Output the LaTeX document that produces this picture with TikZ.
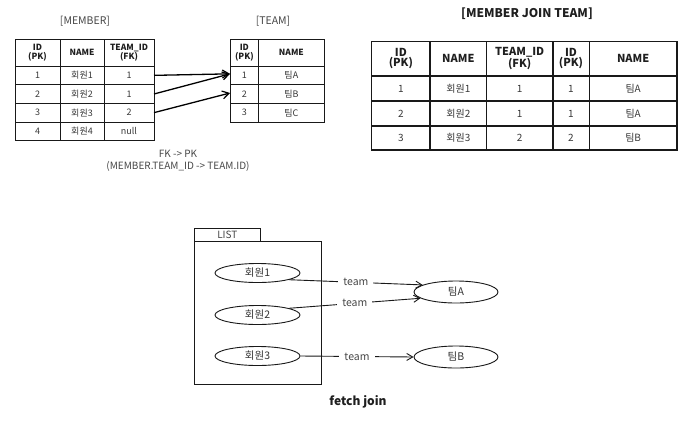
\documentclass[tikz,border=0pt]{standalone}
\usepackage{fontspec}
\setmainfont{Noto Sans CJK KR}
\usetikzlibrary{arrows.meta,shapes.geometric}
\newcommand\tc[7][cellbox]{\node[#1,minimum width={(#5-#3)*1pt},minimum height={(#6-#4)*1pt}] (#2) at ({(#3+#5)/2},{(#4+#6)/2}) {#7};}
\tikzset{
  cellbox/.style={draw=black!90, line width=0.9pt, inner sep=0pt, outer sep=0pt, align=center,
    font=\fontsize{9}{9}\selectfont, text=black!78},
  shdr/.style={cellbox, font=\fontsize{8.5}{8.5}\selectfont\bfseries, text=black!88},
  bigcell/.style={cellbox, line width=1.2pt, font=\fontsize{10}{10}\selectfont},
  bighdr/.style={bigcell, font=\fontsize{11}{10}\selectfont\bfseries, text=black!88},
  ttl/.style={font=\fontsize{10.5}{10}\selectfont, text=black!72},
  fkarrow/.style={draw=black, line width=1.3pt, -{Straight Barb[length=6.5pt,width=8pt,line width=1.2pt]}},
  ell/.style={ellipse, draw=black!90, line width=0.9pt, minimum width=85pt, minimum height=19pt,
    inner sep=0pt, font=\fontsize{10.5}{10}\selectfont, text=black!80},
  conn/.style={draw=black!90, line width=0.9pt, -{Straight Barb[length=6pt,width=7pt,line width=0.9pt]}},
  lbl/.style={fill=white, inner xsep=5pt, inner ysep=1pt, font=\fontsize{10.5}{10}\selectfont, text=black!72},
  boxline/.style={draw=black!90, line width=1pt, inner sep=0pt, outer sep=0pt}
}
\begin{document}
\begin{tikzpicture}[x=1pt,y=-1pt]
\useasboundingbox[fill=white] (0,0) rectangle (700,431);

% ---------- MEMBER ----------
\node[ttl] (memttl) at (85,21) {[MEMBER]};
\tc[shdr]{mh1}{15}{39.5}{60}{66}{ID\\(PK)}
\tc[shdr]{mh2}{60}{39.5}{104}{66}{NAME}
\tc[shdr]{mh3}{104}{39.5}{154}{66}{TEAM\_ID\\(FK)}
\tc{m11}{15}{66}{60}{84.7}{1}
\tc{m12}{60}{66}{104}{84.7}{회원1}
\tc{m13}{104}{66}{154}{84.7}{1}
\tc{m21}{15}{84.7}{60}{103.3}{2}
\tc{m22}{60}{84.7}{104}{103.3}{회원2}
\tc{m23}{104}{84.7}{154}{103.3}{1}
\tc{m31}{15}{103.3}{60}{122}{3}
\tc{m32}{60}{103.3}{104}{122}{회원3}
\tc{m33}{104}{103.3}{154}{122}{2}
\tc{m41}{15}{122}{60}{140.7}{4}
\tc{m42}{60}{122}{104}{140.7}{회원4}
\tc{m43}{104}{122}{154}{140.7}{null}

% ---------- TEAM ----------
\node[ttl] (teamttl) at (273,21) {[TEAM]};
\tc[shdr]{th1}{230}{39.5}{258.7}{66}{ID\\(PK)}
\tc[shdr]{th2}{258.7}{39.5}{324}{66}{NAME}
\tc{t11}{230}{66}{258.7}{84.7}{1}
\tc{t12}{258.7}{66}{324}{84.7}{팀A}
\tc{t21}{230}{84.7}{258.7}{103.3}{2}
\tc{t22}{258.7}{84.7}{324}{103.3}{팀B}
\tc{t31}{230}{103.3}{258.7}{122}{3}
\tc{t32}{258.7}{103.3}{324}{122}{팀C}

\draw[fkarrow] (m13.east) -- ([yshift=1.5pt]t11.west);
\draw[fkarrow] (m23.east) -- ([yshift=1.5pt]t11.west);
\draw[fkarrow] (m33.east) -- ([yshift=1pt]t21.west);

\node[align=center, font=\fontsize{10}{12}\selectfont, text=black!72] (fkpk) at (178,161)
  {FK -> PK\\(MEMBER.TEAM\_ID -> TEAM.ID)};

% ---------- MEMBER JOIN TEAM ----------
\node[font=\fontsize{12}{12}\selectfont\bfseries, text=black!88] (jointtl) at (527,14) {[MEMBER JOIN TEAM]};
\tc[bighdr]{bh1}{371.7}{41.7}{430}{76}{ID\\(PK)}
\tc[bighdr]{bh2}{430}{41.7}{486.7}{76}{NAME}
\tc[bighdr]{bh3}{486.7}{41.7}{552.7}{76}{TEAM\_ID\\(FK)}
\tc[bighdr]{bh4}{552.7}{41.7}{589.3}{76}{ID\\(PK)}
\tc[bighdr]{bh5}{589.3}{41.7}{677}{76}{NAME}
\tc[bigcell]{b11}{371.7}{76}{430}{101}{1}
\tc[bigcell]{b12}{430}{76}{486.7}{101}{회원1}
\tc[bigcell]{b13}{486.7}{76}{552.7}{101}{1}
\tc[bigcell]{b14}{552.7}{76}{589.3}{101}{1}
\tc[bigcell]{b15}{589.3}{76}{677}{101}{팀A}
\tc[bigcell]{b21}{371.7}{101}{430}{126}{2}
\tc[bigcell]{b22}{430}{101}{486.7}{126}{회원2}
\tc[bigcell]{b23}{486.7}{101}{552.7}{126}{1}
\tc[bigcell]{b24}{552.7}{101}{589.3}{126}{1}
\tc[bigcell]{b25}{589.3}{101}{677}{126}{팀A}
\tc[bigcell]{b31}{371.7}{126}{430}{150}{3}
\tc[bigcell]{b32}{430}{126}{486.7}{150}{회원3}
\tc[bigcell]{b33}{486.7}{126}{552.7}{150}{2}
\tc[bigcell]{b34}{552.7}{126}{589.3}{150}{2}
\tc[bigcell]{b35}{589.3}{126}{677}{150}{팀B}
\draw[draw=black!90, line width=2pt] (bh3.north east) -- (b33.south east);

% ---------- fetch join ----------
\node[boxline, minimum width=66.7pt, minimum height=13pt, font=\fontsize{10}{10}\selectfont, text=black!72] (listtab) at (227.35,234.5) {LIST};
\node[boxline, minimum width=127.7pt, minimum height=143.3pt] (listbox) at (257.85,312.65) {};

\node[ell] (mem1) at (257.5,273) {회원1};
\node[ell] (mem2) at (257.5,315) {회원2};
\node[ell] (mem3) at (257.5,356) {회원3};
\node[ell, minimum width=84pt, minimum height=22pt] (teamA) at (456,292) {팀A};
\node[ell, minimum width=84pt, minimum height=22pt] (teamB) at (456,357) {팀B};

\draw[conn] (mem1.-12) -- node[lbl] (lab1) {team} (teamA.168);
\draw[conn] (mem2.12) -- node[lbl] (lab2) {team} (teamA.190);
\draw[conn] (mem3.east) -- node[lbl] (lab3) {team} (teamB.west);

\node[font=\fontsize{12}{12}\selectfont\bfseries, text=black!88] (fetch) at (358,402) {fetch join};
\end{tikzpicture}
\end{document}
